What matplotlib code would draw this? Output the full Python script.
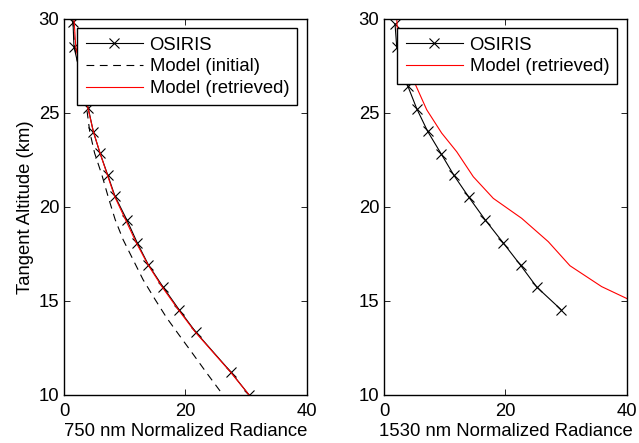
import matplotlib
matplotlib.use("Agg")
import matplotlib.pyplot as plt

plt.rcParams['font.family'] = ['Liberation Sans', 'DejaVu Sans']

# Left panel: 750 nm
alt_osiris_750 = [29.82, 28.5, 25.24, 24.0, 22.86, 21.7, 20.56, 19.32, 18.08, 16.93, 15.72, 14.54, 13.35, 11.23, 10.0]
rad_osiris_750 = [1.44, 1.6, 3.96, 4.79, 5.89, 7.16, 8.37, 10.3, 12.05, 13.86, 16.34, 18.93, 21.68, 27.46, 30.5]

alt_init_750 = [30.0, 28.5, 25.24, 24.0, 22.86, 21.7, 20.47, 19.32, 18.26, 16.13, 15.07, 14.1, 13.12, 12.15, 11.17, 10.0]
rad_init_750 = [1.4, 1.7, 3.7, 4.2, 5.0, 6.2, 7.3, 8.4, 9.7, 13.0, 15.0, 16.9, 19.1, 21.3, 23.5, 26.2]

alt_ret_750 = [30.0, 28.5, 25.24, 24.0, 22.86, 21.7, 20.56, 19.32, 18.08, 16.93, 15.72, 14.54, 13.35, 11.23, 10.0]
rad_ret_750 = [1.6, 1.9, 3.9, 4.8, 5.9, 7.1, 8.3, 10.1, 11.9, 13.8, 16.2, 18.8, 21.6, 27.4, 30.5]

# Right panel: 1530 nm
alt_osiris_1530 = [29.73, 28.5, 26.44, 25.22, 24.01, 22.83, 21.67, 20.5, 19.32, 18.08, 16.89, 15.74, 14.54]
rad_osiris_1530 = [1.77, 2.05, 3.86, 5.35, 7.16, 9.36, 11.5, 13.98, 16.62, 19.64, 22.5, 25.15, 29.16]

alt_ret_1530 = [30.0, 28.7, 26.75, 25.16, 23.92, 22.93, 21.6, 20.45, 19.39, 18.15, 16.87, 15.76, 15.1]
rad_ret_1530 = [2.05, 2.3, 4.79, 7.0, 9.47, 11.95, 14.69, 17.99, 22.67, 27.06, 30.64, 35.87, 40.2]

xticks = [0, 20, 40]
yticks = [10, 15, 20, 25, 30]
ylabel = "Tangent Altitude (km)"
xlabel_left = "750 nm Normalized Radiance"
xlabel_right = "1530 nm Normalized Radiance"

FS = 13.3
fig = plt.figure(figsize=(6.39, 4.43), dpi=100)
ax1 = fig.add_axes([0.1006, 0.1084, 0.3793, 0.8494])
ax2 = fig.add_axes([0.6014, 0.1084, 0.3793, 0.8494])

lw = 0.8
ax1.plot(rad_osiris_750, alt_osiris_750, color='black', lw=lw, marker='x', ms=6.5, mew=0.8, label='OSIRIS')
ax1.plot(rad_init_750, alt_init_750, color='black', lw=lw, ls=(0, (7, 5)), label='Model (initial)')
ax1.plot(rad_ret_750, alt_ret_750, color='red', lw=lw, label='Model (retrieved)')

ax2.plot(rad_osiris_1530, alt_osiris_1530, color='black', lw=lw, marker='x', ms=6.5, mew=0.8, label='OSIRIS')
ax2.plot(rad_ret_1530, alt_ret_1530, color='red', lw=lw, label='Model (retrieved)')

for ax, xl in ((ax1, xlabel_left), (ax2, xlabel_right)):
    ax.set_xlim(0, 40)
    ax.set_ylim(10, 30)
    ax.set_xticks(xticks)
    ax.set_yticks(yticks)
    ax.tick_params(direction='in', top=True, right=True, length=4, width=0.6, labelsize=FS)
    ax.tick_params(axis='x', pad=5.5)
    ax.tick_params(axis='y', pad=3.5)
    ax.set_xlabel(xl, fontsize=FS, labelpad=2.5)
    for s in ax.spines.values():
        s.set_linewidth(1.0)
    leg = ax.legend(loc='upper right', bbox_to_anchor=(0.962, 0.974), fontsize=FS, frameon=True,
                    fancybox=False, edgecolor='black', framealpha=1, handlelength=3.1,
                    borderpad=0.45, labelspacing=0.25, handletextpad=0.35, borderaxespad=0)
    leg.get_frame().set_linewidth(1.0)

ax1.set_ylabel(ylabel, fontsize=FS, labelpad=3.6)

fig.savefig("out.png", dpi=100)
